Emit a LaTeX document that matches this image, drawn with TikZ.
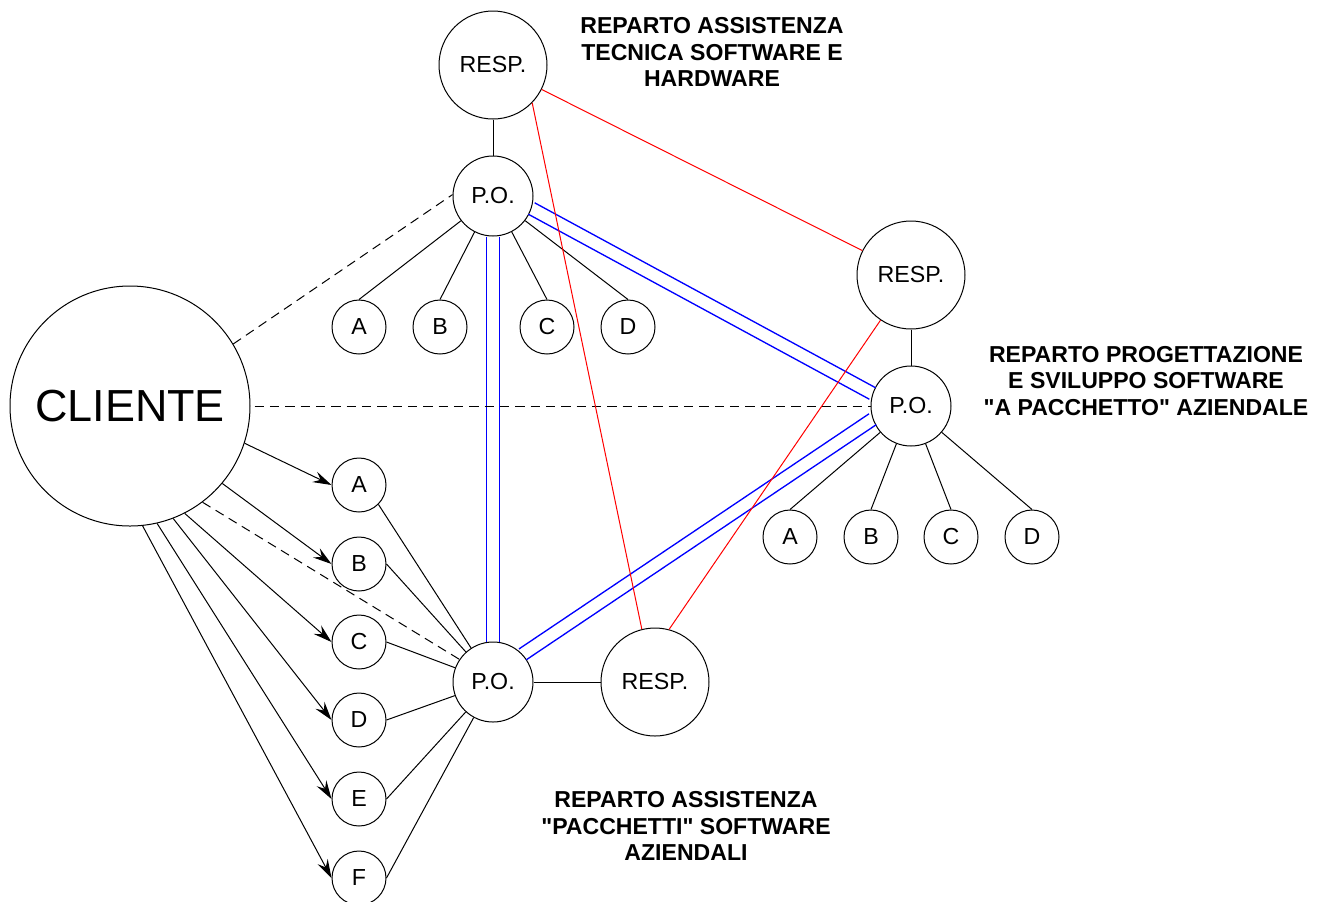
\documentclass[tikz,border=0pt]{standalone}
\usepackage{fontspec}
\setmainfont{Liberation Sans}[Ligatures=TeXOff]
\usetikzlibrary{arrows.meta,positioning,calc}
\def\wLine{0.75pt}
\def\wWire{1pt}
\definecolor{cInk}{HTML}{000000}
\definecolor{cWire}{HTML}{0000FF}
\definecolor{cBoss}{HTML}{FF0000}
\tikzset{
  org/.style={font=\fontsize{17.4}{20}\selectfont, every node/.style={align=center}},
  unit/.style={circle, draw=cInk, line width=\wLine, inner sep=0pt},
  client/.style={unit, minimum size=180pt, font=\fontsize{33.7}{38}\selectfont},
  resp/.style={unit, minimum size=81pt},
  po/.style={unit, minimum size=60pt},
  leaf/.style={unit, minimum size=40.5pt},
  dept/.style={font=\bfseries\fontsize{17.3}{19.7}\selectfont},
  tie/.style={draw=cInk, line width=\wLine},
  ask/.style={tie, -{Stealth[length=14pt, width=8.5pt, inset=5pt]}},
  hint/.style={tie, dash pattern=on 7pt off 4.5pt},
  wire/.style={draw=cWire, line width=\wWire},
  boss/.style={draw=cBoss, line width=\wLine},
}

\begin{document}
\begin{tikzpicture}[org, x=0.75pt, y=-0.75pt]
% Pixel grid of the sketch: 1318 x 901, y downwards.
\useasboundingbox (0,0) rectangle (1318,901);
\node[client] (cli) at (130,406) {CLIENTE};
\node[resp] (r1) at (493,65)  {RESP.};
\node[po]   (p1) at (493,196) {P.O.};
\node[resp] (r2) at (911,275) {RESP.};
\node[po]   (p2) at (911,406) {P.O.};
\node[po]   (p3) at (493,682) {P.O.};
\node[resp] (r3) at (655,682) {RESP.};
\foreach \n/\x in {A/359,B/440,C/547,D/628}
  \node[leaf] (t\n) at (\x,327) {\n};
\foreach \n/\x in {A/790,B/871,C/951,D/1032}
  \node[leaf] (s\n) at (\x,537) {\n};
\foreach \n/\y in {A/485,B/564,C/642,D/720,E/799,F/878}
  \node[leaf] (l\n) at (359,\y) {\n};
% blue twin links between the P.O. nodes
\foreach \s in {-4.9pt,4.9pt} {
  \draw[wire] ($(p1.south)!\s!90:(p3.north)$) -- ($(p3.north)!\s!-90:(p1.south)$);
  \draw[wire] ($(p1.-18)!\s!90:(p2.162)$)     -- ($(p2.162)!\s!-90:(p1.-18)$);
  \draw[wire] ($(p2.199)!\s!90:(p3.43)$)      -- ($(p3.43)!\s!-90:(p2.199)$);
}
% hierarchy
\draw[tie] (r1) -- (p1);
\draw[tie] (r2) -- (p2);
\draw[tie] (p3) -- (r3);
\foreach \n in {A,B,C,D} \draw[tie] (p1) -- (t\n.north);
\foreach \n in {A,B,C,D} \draw[tie] (p2) -- (s\n.north);
\draw[tie] (lA.south east) -- (p3);
\foreach \n in {B,C,D,E,F} \draw[tie] (l\n.east) -- (p3);
% requests from the client
\foreach \n/\a in {A/-18,B/-40,C/-63,D/-69,E/-77,F/-84}
  \draw[ask] (cli.\a) -- (l\n.west);
\draw[hint] (cli.31)  -- (p1.178);
\draw[hint, shorten <=3pt] (cli.east) -- (p2.west);
\draw[hint] (cli.-53) -- (p3.146);
% red links between the RESP. nodes
\draw[boss] (r1) -- (r2);
\draw[boss] (r1.-44) -- (r3.104);
\draw[boss] (r2.236) -- (r3.75);
\node[dept] (hw) at (712,52)   {REPARTO ASSISTENZA\\TECNICA SOFTWARE E\\HARDWARE};
\node[dept] (sw) at (1146,381) {REPARTO PROGETTAZIONE\\E SVILUPPO SOFTWARE\\"A PACCHETTO" AZIENDALE};
\node[dept] (pk) at (686,826)  {REPARTO ASSISTENZA\\"PACCHETTI" SOFTWARE\\AZIENDALI};
\end{tikzpicture}
\end{document}
